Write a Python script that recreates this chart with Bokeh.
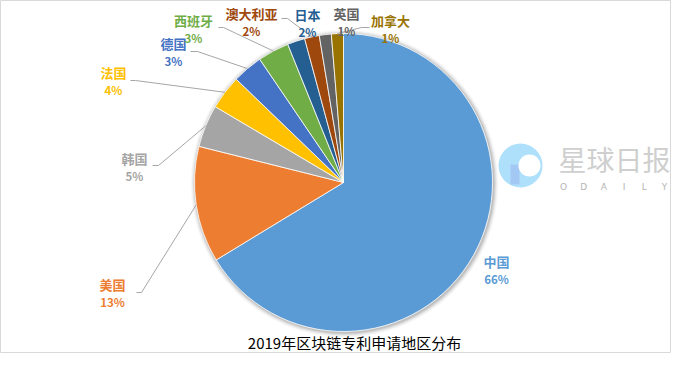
import math
from bokeh.plotting import figure
from bokeh.models import Range1d
from bokeh.core.properties import value
from bokeh.embed import file_html
from bokeh.resources import INLINE

# ---------------- data ----------------
categories = ["中国", "美国", "韩国", "法国", "德国", "西班牙", "日本", "澳大利亚", "英国", "加拿大"]
shares = [66.3, 12.6, 4.6, 3.7, 3.3, 3.4, 1.9, 1.6, 1.3, 1.3]
colors = ["#5B9BD5", "#ED7D31", "#A5A5A5", "#FFC000", "#4472C4",
          "#70AD47", "#255E91", "#9E480E", "#636363", "#997300"]
chart_title = "2019年区块链专利申请地区分布"
brand_cn = "星球日报"
brand_en = list("ODAILY")

# ---------------- layout (page pixels, y downward) ----------------
PAGE_H = 369
SHIFT = 2
CX, CY, R = 343, 184, 149
name_pos = [(496, 263), (112, 286), (134, 160), (113, 74), (173, 45),
            (193, 22), (307, 16), (251, 15), (346, 15), (390, 22)]
pct_dy = 17
leader_start = [None, (136, 294), (152, 167), (130, 82), (190, 53),
                (218, 29), None, (281, 20), None, (369, 29)]
leader_kick = [0, 5, 6, 5, 7, 5, 0, 6, 0, -8]

def Y(y):
    return PAGE_H - (y - SHIFT)

p = figure(width=671, height=353, x_range=Range1d(0, 671), y_range=Range1d(16, 369),
           output_backend="svg", toolbar_location=None, min_border=0,
           x_axis_location=None, y_axis_location=None)
p.grid.visible = False
p.outline_line_color = "#D9D9D9"
p.outline_line_width = 1
p.background_fill_color = "white"
p.border_fill_color = "white"

# ---------------- pie ----------------
total = sum(shares)
starts, ends, mids = [], [], []
c = 0.0
for s in shares:
    f0 = c / total
    c += s
    f1 = c / total
    starts.append(math.pi / 2 - f0 * 2 * math.pi)
    ends.append(math.pi / 2 - f1 * 2 * math.pi)
    mids.append((f0 + f1) / 2)

# soft shadow
for dr, a in [(5, 0.025), (4, 0.035), (3, 0.05), (2, 0.07), (1, 0.09)]:
    p.circle(x=CX + 1, y=Y(CY + 1), radius=R + dr, fill_color="black",
             fill_alpha=a, line_color=None)

p.wedge(x=CX, y=Y(CY), radius=R, start_angle=starts, end_angle=ends,
        direction="clock", fill_color=colors, line_color="white", line_width=0.8)

# ---------------- leader lines ----------------
xs, ys = [], []
for i, st in enumerate(leader_start):
    if st is None:
        continue
    th = mids[i] * 2 * math.pi
    px = CX + R * math.sin(th)
    py = CY - R * math.cos(th)
    sx, sy = st
    xs.append([sx, sx + leader_kick[i], px])
    ys.append([Y(sy), Y(sy), Y(py)])
p.multi_line(xs=xs, ys=ys, line_color="#A6A6A6", line_width=1)

# ---------------- labels ----------------
pct_text = [f"{round(s / total * 100)}%" for s in shares]
font = value("Noto Sans CJK SC")
p.text(x=[q[0] for q in name_pos], y=[Y(q[1]) for q in name_pos], text=categories,
       text_color=colors, text_font=font, text_font_size="13px", text_font_style="bold",
       text_align="center", text_baseline="middle")
p.text(x=[q[0] for q in name_pos], y=[Y(q[1] + pct_dy) for q in name_pos], text=pct_text,
       text_color=colors, text_font=font, text_font_size="11.5px", text_font_style="bold",
       text_align="center", text_baseline="middle")

# ---------------- title ----------------
p.text(x=[354], y=[Y(344)], text=[chart_title], text_color="#000000", text_font=font,
       text_font_size="15px", text_align="center", text_baseline="middle")

# ---------------- watermark ----------------
LX, LY = 520, 167
p.circle(x=LX, y=Y(LY), radius=22, fill_color="#AEE0FC", line_color=None)
p.quad(left=LX - 10, right=LX - 1, top=Y(LY - 1), bottom=Y(LY + 19),
       fill_color="#A3C8F4", line_color=None)
p.circle(x=LX + 9, y=Y(LY), radius=11, fill_color="white", line_color=None)
p.text(x=[614], y=[Y(160)], text=[brand_cn], text_color="#CFCFCF", text_font=font,
       text_font_size="28px", text_align="center", text_baseline="middle")
p.text(x=[563 + i * 20.2 for i in range(len(brand_en))], y=[Y(188)] * len(brand_en),
       text=brand_en, text_color="#B5B5B5", text_font=value("DejaVu Sans"),
       text_font_size="9px", text_align="center", text_baseline="middle")

open("out.html", "w").write(file_html(p, INLINE))
